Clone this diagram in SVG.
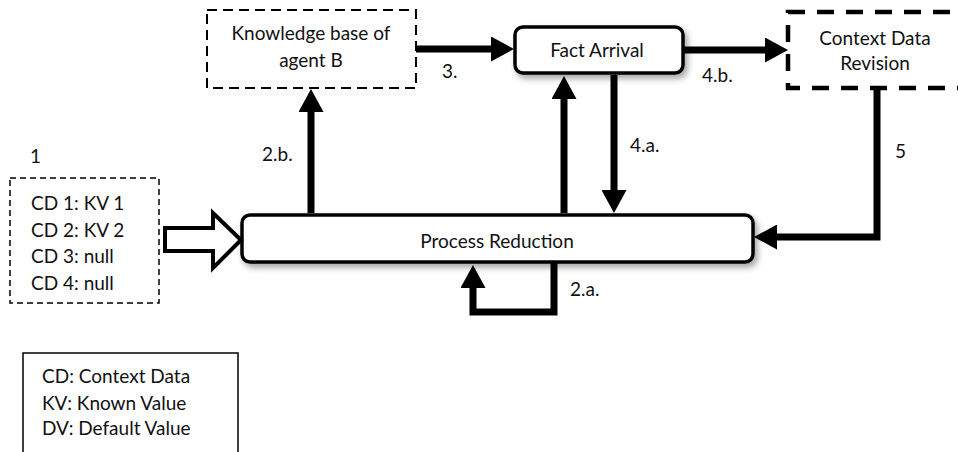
<svg xmlns="http://www.w3.org/2000/svg" width="958" height="452" viewBox="0 0 958 452">
<style>
text{font-family:"Lato","Liberation Sans",sans-serif;font-size:19px;fill:#111}
.c{text-anchor:middle}
.con{fill:none;stroke:#000;stroke-width:7;stroke-linejoin:miter;stroke-linecap:butt}
.rbox{fill:#fff;stroke:#000;stroke-width:3.5}
</style>
<defs>
<marker id="ah" markerWidth="23" markerHeight="25" refX="1" refY="12.5" orient="auto" markerUnits="userSpaceOnUse">
<path d="M0,0 L23,12.5 L0,25 z" fill="#000"/>
</marker>
<filter id="sh" x="-10%" y="-30%" width="120%" height="170%">
<feGaussianBlur in="SourceAlpha" stdDeviation="3"/>
<feOffset dx="3" dy="4" result="b"/>
<feComponentTransfer><feFuncA type="linear" slope="0.35"/></feComponentTransfer>
<feMerge><feMergeNode/><feMergeNode in="SourceGraphic"/></feMerge>
</filter>
</defs>
<rect width="958" height="452" fill="#fff"/>

<g id="input">
<rect x="10" y="178" width="149" height="125" fill="none" stroke="#000" stroke-width="1.5" stroke-dasharray="6,4"/>
<text x="31" y="210">CD 1: KV 1</text>
<text x="31" y="237">CD 2: KV 2</text>
<text x="31" y="263">CD 3: null</text>
<text x="31" y="290">CD 4: null</text>
</g>

<g id="legend">
<rect x="23" y="353" width="215" height="120" fill="none" stroke="#000" stroke-width="1.5"/>
<text x="42" y="383">CD: Context Data</text>
<text x="42" y="410">KV: Known Value</text>
<text x="42" y="435">DV: Default Value</text>
</g>

<g id="knowledge">
<rect x="207" y="10" width="209" height="78" fill="#fff" stroke="#000" stroke-width="2" stroke-dasharray="10,6"/>
<text class="c" x="311" y="40">Knowledge base of</text>
<text class="c" x="311" y="67">agent B</text>
</g>

<g id="fact">
<rect class="rbox" x="515" y="27" width="168" height="46" rx="8" filter="url(#sh)"/>
<text class="c" x="597" y="57">Fact Arrival</text>
</g>

<g id="revision">
<rect x="788" y="12" width="200" height="76" fill="#fff" stroke="#000" stroke-width="4.5" stroke-dasharray="17,12"/>
<text class="c" x="875" y="45">Context Data</text>
<text class="c" x="875" y="70">Revision</text>
</g>

<g id="process">
<rect class="rbox" x="242" y="215" width="511" height="47" rx="8" filter="url(#sh)"/>
<text class="c" x="497" y="248">Process Reduction</text>
</g>

<g id="connectors">
<polygon points="165,228 213,228 213,213 241,240 213,268 213,251 165,251" fill="#fff" stroke="#000" stroke-width="4" stroke-linejoin="miter"/>
<path class="con" d="M416,49 H492" marker-end="url(#ah)"/>
<path class="con" d="M311,213 V111" marker-end="url(#ah)"/>
<path class="con" d="M564,213 V98" marker-end="url(#ah)"/>
<path class="con" d="M614,75 V191" marker-end="url(#ah)"/>
<path class="con" d="M683,50 H766" marker-end="url(#ah)"/>
<path class="con" d="M877,88 V237 H776" marker-end="url(#ah)"/>
<path class="con" d="M554,262 V312 H473 V287" marker-end="url(#ah)"/>
</g>

<g id="labels">
<text x="30" y="163">1</text>
<text x="262" y="161">2.b.</text>
<text x="442" y="78">3.</text>
<text x="630" y="152">4.a.</text>
<text x="702" y="82">4.b.</text>
<text x="895" y="158">5</text>
<text x="570" y="296">2.a.</text>
</g>
</svg>
